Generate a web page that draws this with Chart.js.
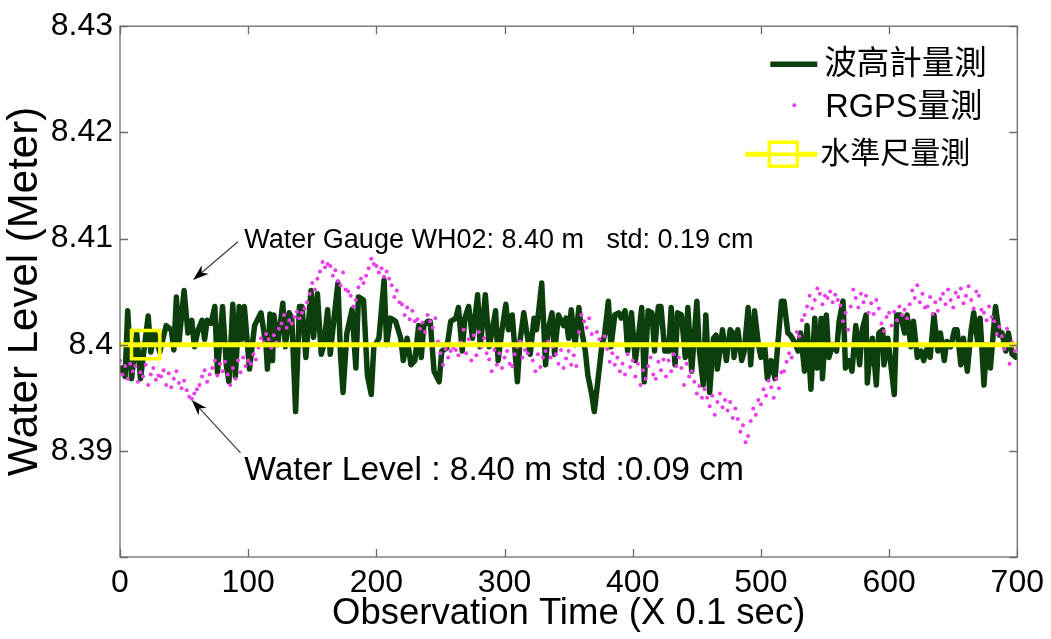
<!DOCTYPE html>
<html>
<head>
<meta charset="utf-8">
<script src="https://cdn.jsdelivr.net/npm/chart.js@4/dist/chart.umd.min.js"></script>
<style>
  html, body { margin: 0; padding: 0; background: #ffffff; }
  #wrap { width: 1051px; height: 639px; }
</style>
</head>
<body>
<div id="wrap"><canvas id="c" width="1051" height="639"></canvas></div>
<script>
// ---------- data ----------
// Wave gauge (波高計) water level, metres, at observation time (x 0.1 s)
const gaugeTime = [0,4,6,9,13,16,22,24,27,31,36,40,42,44,46,50,53,56,58,61,64,66,68,71,74,76,80,83,85,88,90,93,95,97,101,105,110,114,115,117,119,120,123,127,129,132,134,137,140,142,145,149,151,154,157,159,162,164,167,170,172,174,177,181,184,186,190,193,196,198,202,206,208,211,215,219,221,224,227,230,233,235,237,240,242,245,249,251,255,258,262,264,267,269,272,275,279,281,285,288,290,293,295,298,301,303,306,310,312,315,317,320,323,325,329,332,334,337,339,342,346,348,350,352,355,358,360,363,365,368,370,373,376,378,381,383,386,389,391,394,396,399,402,404,407,409,412,415,417,420,422,425,428,430,433,435,438,441,443,446,450,452,455,457,460,463,465,466,468,470,473,476,478,479,482,485,487,490,492,495,498,500,503,505,508,511,513,516,518,521,523,526,529,531,534,536,539,542,544,547,548,551,553,556,559,561,564,566,569,571,574,577,579,582,583,584,587,590,592,595,596,599,601,604,606,609,612,614,617,619,622,625,627,630,632,635,638,640,643,645,648,651,653,656,658,661,664,666,669,671,674,676,679,683,686,688,691,693,696,699,700];
const gaugeLevel = [8.3980,8.3970,8.4032,8.3968,8.4011,8.3968,8.4027,8.3993,8.4011,8.3993,8.4018,8.4014,8.3995,8.4045,8.4002,8.4051,8.4011,8.4023,8.3998,8.4014,8.4023,8.4005,8.4023,8.4020,8.4036,8.3974,8.4036,8.3980,8.3965,8.4038,8.3970,8.4036,8.4005,8.4036,8.3977,8.4018,8.4030,8.3998,8.3977,8.4029,8.3985,8.4028,8.4000,8.4039,8.3998,8.4030,8.4025,8.3937,8.4036,8.4036,8.3988,8.4051,8.4007,8.4048,8.3991,8.4000,8.4033,8.3991,8.4025,8.4058,8.3991,8.3955,8.4011,8.4033,8.3978,8.4045,8.4042,8.3971,8.3953,8.3998,8.4006,8.4061,8.4000,8.4025,8.4022,8.4006,8.3985,8.4006,8.3981,8.3985,8.4018,8.3988,8.4018,8.4022,8.4022,8.3975,8.3965,8.3994,8.3997,8.4022,8.4025,8.4035,8.3994,8.4025,8.4036,8.4006,8.4047,8.3998,8.4047,8.3998,8.4011,8.4032,8.3985,8.4014,8.4038,8.4014,8.4028,8.3965,8.4003,8.4030,8.4014,8.3991,8.4025,8.4014,8.4058,8.3981,8.4014,8.4030,8.3991,8.4028,8.4018,8.4025,8.4006,8.4033,8.4000,8.4035,8.4014,8.3994,8.3971,8.3953,8.3937,8.3968,8.4000,8.4009,8.4041,8.3998,8.4028,8.4030,8.4025,8.4032,8.3994,8.4030,8.3985,8.4003,8.4035,8.3965,8.4032,8.4030,8.3994,8.4036,8.4036,8.3994,8.3994,8.4035,8.3981,8.4030,8.4028,8.3988,8.4035,8.3975,8.4041,8.3994,8.3962,8.4028,8.3955,8.4006,8.4009,8.3977,8.3994,8.4014,8.3985,8.4014,8.4011,8.3988,8.4014,8.3985,8.3994,8.4035,8.3981,8.4032,8.4000,8.3988,8.3998,8.3968,8.3985,8.3968,8.3998,8.4041,8.4041,8.4011,8.4009,8.4003,8.3994,8.4011,8.3975,8.4018,8.3958,8.4025,8.3978,8.4025,8.3968,8.4028,8.3988,8.4000,8.3994,8.4022,8.4041,8.3978,8.3985,8.3975,8.4018,8.3981,8.4014,8.4028,8.3964,8.3978,8.4006,8.3962,8.4011,8.4014,8.3981,8.4006,8.3985,8.3953,8.4028,8.4028,8.4011,8.4028,8.3998,8.4022,8.3988,8.3994,8.3985,8.3998,8.3988,8.4028,8.3994,8.4011,8.3985,8.4003,8.3998,8.4014,8.4014,8.3981,8.4006,8.3975,8.4014,8.4030,8.4003,8.4025,8.3962,8.4000,8.3978,8.4036,8.4009,8.4011,8.3994,8.4011,8.3991,8.3988,8.3992];

// RGPS water level, metres, one sample every 2 time units starting at 0
const rgpsLevel = [
8.3985,8.3972,8.3980,8.3968,8.3982,8.3975,
8.3980,8.3965,8.3974,8.3970,8.3981,8.3962,8.3972,8.3978,8.3967,8.3971,
8.3970,8.3976,8.3962,8.3973,8.3960,8.3968,8.3975,8.3964,8.3959,8.3966,
8.3957,8.3951,8.3949,8.3954,8.3958,
8.3962,8.3970,8.3976,8.3965,8.3972,
8.3978,8.3985,8.3971,8.3982,8.3975,
8.3984,8.3972,8.3962,8.3978,8.3968,8.3985,8.3974,
8.3988,8.3980,8.3985,8.3982,8.3991,8.3986,
8.3997,8.4006,8.4002,8.4010,
8.4005,8.3997,8.4009,8.4002,8.4015,8.4020,
8.4028,8.4016,8.4023,8.4020,
8.4026,8.4031,8.4025,8.4030,
8.4034,8.4040,
8.4048,8.4058,8.4052,8.4062,
8.4069,8.4078,8.4073,8.4076,
8.4074,8.4065,8.4070,8.4060,8.4056,8.4068,8.4052,8.4050,
8.4046,8.4036,8.4042,
8.4054,8.4062,8.4058,8.4065,
8.4072,8.4081,8.4076,
8.4074,8.4068,8.4072,8.4064,8.4069,8.4062,
8.4056,8.4045,8.4051,8.4040,
8.4038,8.4028,8.4035,8.4024,8.4032,8.4022,
8.4024,8.4015,8.4021,8.4012,8.4028,8.4022,8.4016,8.4025,
8.4003,8.3992,8.3981,8.3996,8.3988,
8.3994,8.3997,8.3995,8.3990,8.4002,
8.4014,8.3992,8.4005,8.3985,8.4009,
8.3990,8.4012,8.3998,8.4006,8.3992,
8.3986,8.3975,8.3995,8.3981,8.3992,8.3978,8.3988,8.3994,8.3982,8.3980,8.3991,
8.3998,8.4003,8.3988,8.3995,8.3992,8.4001,
8.3985,8.3975,8.3991,8.3979,8.3988,
8.3994,8.4003,8.3988,8.3998,8.3991,
8.3982,8.3995,8.3978,8.3987,8.3994,8.3981,8.3990,8.3980,
8.4012,8.4028,8.4022,8.4016,8.4025,
8.4010,8.4000,8.4012,8.4005,8.3999,8.4008,
8.3996,8.3984,8.3992,8.3981,
8.3988,8.3975,8.3982,8.3972,8.3991,8.3979,8.3985,
8.3970,8.3982,8.3962,8.3976,8.3968,
8.3980,8.3988,8.3972,8.3968,8.3984,8.3976,8.3986,8.3970,
8.3985,8.3975,8.3991,8.3980,8.3988,
8.3978,8.3962,8.3982,8.3970,8.3975,
8.3965,8.3954,8.3961,8.3950,8.3958,
8.3950,8.3942,8.3952,8.3934,8.3946,
8.3954,8.3941,8.3948,
8.3938,8.3946,8.3931,8.3940,
8.3930,8.3918,8.3924,8.3908,8.3914,
8.3928,8.3940,8.3934,8.3948,
8.3944,8.3958,8.3952,8.3966,8.3960,
8.3950,8.3968,8.3959,8.3974,
8.3975,8.3984,8.3992,8.3988,
8.4000,8.4012,8.4008,8.4023,
8.4028,8.4036,8.4046,8.4034,
8.4042,8.4053,8.4048,8.4038,8.4046,
8.4044,8.4050,8.4040,8.4047,8.4042,
8.4037,8.4022,8.4030,8.4014,
8.4036,8.4052,8.4044,8.4035,8.4048,8.4040,
8.4046,8.4030,8.4039,8.4029,8.4042,
8.4034,8.4020,8.4013,8.4026,8.4030,8.4018,
8.4031,8.4023,8.4036,8.4028,8.4033,8.4025,
8.4038,8.4051,8.4044,8.4056,8.4040,8.4048,8.4035,
8.4036,8.4045,8.4029,8.4040,8.4032,8.4043,
8.4048,8.4038,8.4052,8.4042,8.4035,8.4049,8.4045,8.4053,8.4039,8.4046,
8.4055,8.4042,8.4034,8.4050,8.4046,8.4033,
8.4030,8.4023,8.4036,8.4026,
8.4022,8.4010,8.4017,
8.4008,8.3996,8.4015,8.3982,8.4002,8.3994,
8.3997];
const rgpsInterval = 2;
const rgpsTime = rgpsLevel.map((_, i) => i * rgpsInterval);

// Levelling staff (水準尺) reading
const staffTime = [0, 700];
const staffLevel = [8.40, 8.40];
const staffMarkTime = [20];
const staffMarkLevel = [8.40];

// Series names and texts
const seriesNames = ['波高計量測', 'RGPS量測', '水準尺量測'];
const xTitle = 'Observation Time (X 0.1 sec)';
const yTitle = 'Water Level (Meter)';
const xRange = [0, 700];
const xStep = 100;
const yRange = [8.38, 8.43];
const yStep = 0.01;
const yHiddenTicks = [8.38];
const noteGauge = 'Water Gauge WH02: 8.40 m   std: 0.19 cm';
const noteLevel = 'Water Level : 8.40 m std :0.09 cm';
// annotation anchors in data units: [time, level]
const noteGaugeText = [97, 8.4098];
const noteGaugeArrow = [[92, 8.4097], [57, 8.4061]];
const noteLevelText = [97, 8.3881];
const noteLevelArrow = [[94, 8.3898], [56, 8.3948]];

// ---------- styles ----------
const FONT = '"Liberation Sans", Arial, "Noto Sans CJK TC", sans-serif';
const CJK = '"Liberation Sans", Arial, "Noto Sans CJK TC", "Noto Sans CJK SC", sans-serif';
const GREEN = '#0c3f0c';
const MAGENTA = '#ec3cec';
const YELLOW = '#ffff00';
const AXIS = '#6b6b6b';

const toXY = (xs, ys) => xs.map((x, i) => ({ x: x, y: ys[i] }));

function arrow(ctx, x1, y1, x2, y2) {
  const ang = Math.atan2(y2 - y1, x2 - x1);
  const L = 16, W = 5.5;
  ctx.save();
  ctx.strokeStyle = '#3a3a3a';
  ctx.lineWidth = 1.2;
  ctx.beginPath();
  ctx.moveTo(x1, y1);
  ctx.lineTo(x2 - Math.cos(ang) * L * 0.6, y2 - Math.sin(ang) * L * 0.6);
  ctx.stroke();
  ctx.fillStyle = '#000';
  ctx.beginPath();
  ctx.moveTo(x2, y2);
  ctx.lineTo(x2 - L * Math.cos(ang) + W * Math.sin(ang), y2 - L * Math.sin(ang) - W * Math.cos(ang));
  ctx.lineTo(x2 - L * 0.7 * Math.cos(ang), y2 - L * 0.7 * Math.sin(ang));
  ctx.lineTo(x2 - L * Math.cos(ang) - W * Math.sin(ang), y2 - L * Math.sin(ang) + W * Math.cos(ang));
  ctx.closePath();
  ctx.fill();
  ctx.restore();
}

const framePlugin = {
  id: 'frame',
  afterDatasetsDraw(chart) {
    const { ctx, chartArea: a, scales } = chart;
    ctx.save();
    ctx.strokeStyle = AXIS;
    ctx.lineWidth = 1.3;
    ctx.strokeRect(a.left, a.top, a.right - a.left, a.bottom - a.top);
    const T = 8;
    ctx.beginPath();
    scales.x.ticks.forEach(t => {
      const px = Math.round(scales.x.getPixelForValue(t.value)) + 0.5;
      ctx.moveTo(px, a.bottom); ctx.lineTo(px, a.bottom - T);
      ctx.moveTo(px, a.top); ctx.lineTo(px, a.top + T);
    });
    scales.y.ticks.forEach(t => {
      const py = Math.round(scales.y.getPixelForValue(t.value)) + 0.5;
      ctx.moveTo(a.left, py); ctx.lineTo(a.left + T, py);
      ctx.moveTo(a.right, py); ctx.lineTo(a.right - T, py);
    });
    ctx.stroke();
    ctx.restore();
  },
  afterDraw(chart) {
    const { ctx, chartArea: a, scales } = chart;
    const X = v => scales.x.getPixelForValue(v);
    const Y = v => scales.y.getPixelForValue(v);
    ctx.save();
    // annotations
    ctx.fillStyle = '#000';
    ctx.textBaseline = 'middle';
    ctx.textAlign = 'left';
    ctx.font = '27px ' + FONT;
    ctx.fillText(noteGauge, X(noteGaugeText[0]), Y(noteGaugeText[1]));
    arrow(ctx, X(noteGaugeArrow[0][0]), Y(noteGaugeArrow[0][1]), X(noteGaugeArrow[1][0]), Y(noteGaugeArrow[1][1]));
    ctx.font = '33.5px ' + FONT;
    ctx.fillText(noteLevel, X(noteLevelText[0]), Y(noteLevelText[1]));
    arrow(ctx, X(noteLevelArrow[0][0]), Y(noteLevelArrow[0][1]), X(noteLevelArrow[1][0]), Y(noteLevelArrow[1][1]));

    // legend (top right inside the axes)
    const R = a.right;
    const T0 = a.top;
    // 1: gauge line
    ctx.strokeStyle = GREEN;
    ctx.lineWidth = 5.5;
    ctx.beginPath();
    ctx.moveTo(R - 247, T0 + 38); ctx.lineTo(R - 200, T0 + 38);
    ctx.stroke();
    ctx.fillStyle = '#000';
    ctx.font = '32.5px ' + CJK;
    ctx.fillText(seriesNames[0], R - 193, T0 + 39);
    // 2: RGPS dot
    ctx.fillStyle = MAGENTA;
    ctx.beginPath();
    ctx.arc(R - 223, T0 + 79, 2, 0, Math.PI * 2);
    ctx.fill();
    ctx.fillStyle = '#000';
    ctx.fillText(seriesNames[1], R - 192, T0 + 82);
    // 3: staff line with square marker
    ctx.strokeStyle = YELLOW;
    ctx.lineWidth = 5;
    ctx.beginPath();
    ctx.moveTo(R - 272, T0 + 128); ctx.lineTo(R - 200, T0 + 128);
    ctx.stroke();
    ctx.fillStyle = '#fff';
    ctx.lineWidth = 3.5;
    ctx.fillRect(R - 248, T0 + 116, 28, 24);
    ctx.strokeRect(R - 248, T0 + 116, 28, 24);
    ctx.beginPath();
    ctx.moveTo(R - 248, T0 + 128); ctx.lineTo(R - 220, T0 + 128);
    ctx.stroke();
    ctx.fillStyle = '#000';
    ctx.font = '30px ' + CJK;
    ctx.fillText(seriesNames[2], R - 197, T0 + 129);
    ctx.restore();
  }
};

new Chart(document.getElementById('c'), {
  type: 'scatter',
  data: {
    datasets: [
      {
        label: seriesNames[2],
        data: toXY(staffTime, staffLevel),
        showLine: true,
        borderColor: YELLOW,
        borderWidth: 5,
        pointRadius: 0,
        order: 0
      },
      {
        label: seriesNames[2] + ' marker',
        data: toXY(staffMarkTime, staffMarkLevel),
        showLine: false,
        pointStyle: 'rect',
        pointRadius: 20,
        borderColor: YELLOW,
        borderWidth: 3.5,
        backgroundColor: 'rgba(0,0,0,0)',
        order: 1
      },
      {
        label: seriesNames[1],
        data: toXY(rgpsTime, rgpsLevel),
        showLine: false,
        pointRadius: 2,
        borderWidth: 0,
        backgroundColor: MAGENTA,
        order: 2
      },
      {
        label: seriesNames[0],
        data: toXY(gaugeTime, gaugeLevel),
        showLine: true,
        borderColor: GREEN,
        borderWidth: 5.5,
        borderJoinStyle: 'round',
        pointRadius: 0,
        tension: 0,
        order: 3
      }
    ]
  },
  options: {
    responsive: false,
    animation: false,
    events: [],
    layout: { padding: { top: 20, right: 31, left: 0, bottom: 0 } },
    plugins: { legend: { display: false }, tooltip: { enabled: false } },
    scales: {
      x: {
        type: 'linear',
        min: xRange[0],
        max: xRange[1],
        grid: { display: false, drawTicks: false },
        border: { display: false },
        ticks: {
          stepSize: xStep,
          color: '#000',
          font: { family: FONT, size: 32 },
          padding: 7,
          maxRotation: 0,
          autoSkip: false
        },
        title: {
          display: true,
          text: xTitle,
          color: '#000',
          font: { family: FONT, size: 36.5 },
          padding: { top: 0, bottom: 3 }
        },
        afterFit: s => { s.height = 82; }
      },
      y: {
        type: 'linear',
        min: yRange[0],
        max: yRange[1],
        grid: { display: false, drawTicks: false },
        border: { display: false },
        ticks: {
          stepSize: yStep,
          color: '#000',
          font: { family: FONT, size: 32 },
          padding: 7,
          autoSkip: false,
          callback: v => {
            const r = Math.round(v * 100) / 100;
            return yHiddenTicks.includes(r) ? '' : String(r);
          }
        },
        title: {
          display: true,
          text: yTitle,
          color: '#000',
          font: { family: FONT, size: 42 },
          padding: { top: 0, bottom: 0 }
        },
        afterFit: s => { s.width = 120; }
      }
    }
  },
  plugins: [framePlugin]
});
</script>
</body>
</html>
